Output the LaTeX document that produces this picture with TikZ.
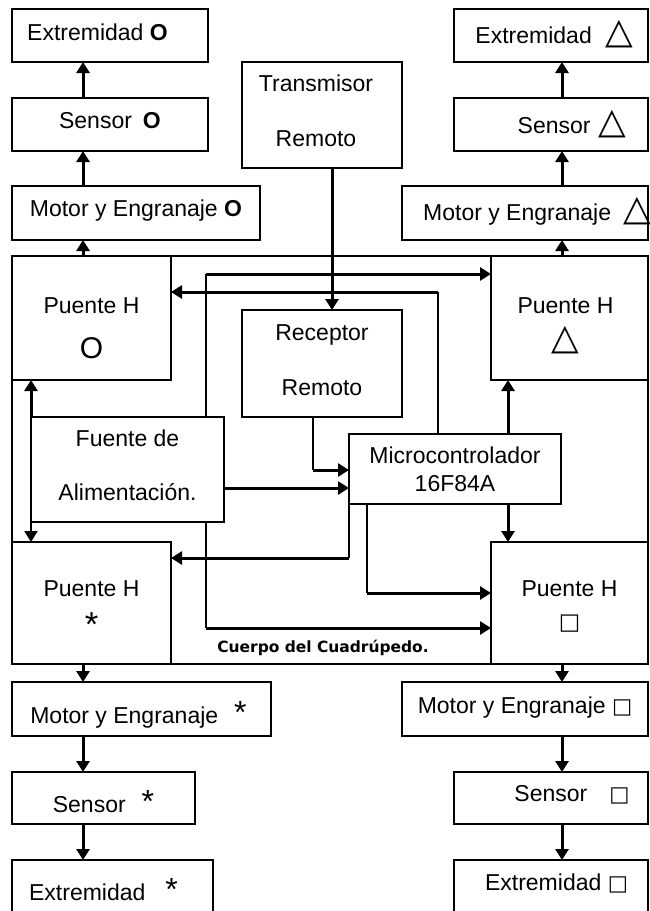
\documentclass[tikz,border=0pt]{standalone}
\usepackage{fontspec}
\setmainfont{Liberation Sans}
\newfontfamily\symfont{DejaVu Sans}
\usetikzlibrary{arrows.meta}

% 1 unit of the drawing = 0.75pt
\newlength\pxu
\setlength\pxu{0.75pt}
\newcommand\nudge[1]{\hspace*{#1\pxu}}
\newcommand\gp[1]{\hspace*{#1\pxu}}
\newcommand\tri[1][27]{{\symfont\fontsize{#1}{#1}\selectfont △}}
\newcommand\sqbox[1][16]{{\symfont\fontsize{#1}{#1}\selectfont □}}
\newcommand\astk[1][24]{{\fontsize{#1}{#1}\selectfont *}}

\begin{document}
\begin{tikzpicture}[x=0.75pt,y=-0.75pt,
  box/.style={draw, fill=white, line width=0.85pt, inner sep=0pt, outer sep=0pt,
    align=center, font=\fontsize{17.25}{20}\selectfont, text depth=0pt},
  sz/.style 2 args={minimum width=#1*0.75pt, minimum height=#2*0.75pt},
  wire/.style={line width=0.85pt},
  arr/.style={line width=2.25pt, -{Triangle[width=9.75pt,length=8.25pt]}},
  arrmid/.style={line width=1.5pt, -{Triangle[width=9.75pt,length=8.25pt]}},
]
\clip (0,0) rectangle (650,911);

% body of the quadruped
\node[draw, line width=0.85pt, sz={636}{408}, inner sep=0pt, outer sep=0pt] (body) at (330,460) {};

% leg "O" (top left)
\node[box, sz={196}{53}, text height=7.1pt] (extO) at (110,35.5) {\nudge{-25}Extremidad \textbf{O}};
\node[box, sz={196}{53}, text height=5.6pt] (senO) at (110,124.5) {Sensor\gp{11}\textbf{O}};
\node[box, sz={248}{54}, text height=4.9pt] (motO) at (136,213) {Motor y Engranaje \textbf{O}};

% remote transmitter
\node[box, sz={160}{106}, text height=46.9pt] (tx) at (322,115)
  {\nudge{-12}Transmisor\\[21.25pt]\nudge{-12}Remoto};

% leg triangle (top right)
\node[box, sz={194}{53}, text height=11.6pt] (extT) at (551,35.5) {\nudge{7}Extremidad\gp{14}\tri};
\node[box, sz={194}{53}, text height=13.1pt] (senT) at (551,124.5) {\nudge{42}Sensor\gp{8}\tri};
\node[box, sz={246}{54}, text height=10.9pt] (motT) at (525,213)
  {\makebox[0pt]{\nudge{24}Motor y Engranaje\gp{12}\tri}};

% H bridges
\node[box, sz={159}{124}, text height=60pt] (phO) at (91.5,318)
  {Puente H\\[13.6pt]{\fontsize{22.5}{22.5}\selectfont O}};
\node[box, sz={157}{124}, text height=47.25pt] (phT) at (569.5,318)
  {\nudge{-8}Puente H\\[7.2pt]\nudge{-8}\tri};
\node[box, sz={159}{122}, text height=49.5pt] (phS) at (91.5,603)
  {Puente H\\[9.8pt]\astk[26]};
\node[box, sz={157}{122}, text height=39.5pt] (phQ) at (569.5,603)
  {Puente H\\[4.8pt]\sqbox[17]};

% receiver, power supply, microcontroller
\node[box, sz={160}{107}, text height=47.6pt] (rx) at (322,363.5)
  {Receptor\\[21.25pt]Remoto};
\node[box, sz={193}{105}, text height=46.1pt] (src) at (127.5,469.5)
  {Fuente de\\[20.5pt]Alimentación.};
\node[box, sz={212}{70}, text height=33.4pt] (mcu) at (455,469)
  {Microcontrolador\\[1pt]16F84A};

% leg "*" (bottom left)
\node[box, sz={259}{54}, text height=21.4pt] (motS) at (141.5,709) {\nudge{-6}Motor y Engranaje\gp{16}\astk};
\node[box, sz={183}{52}, text height=21.4pt] (senS) at (103.5,798) {Sensor\gp{16}\astk};
\node[box, sz={201}{64}, text height=12.4pt] (extS) at (112.5,892) {\nudge{-18}Extremidad\gp{20}\astk};

% leg square (bottom right)
\node[box, sz={246}{54}, text height=6.4pt] (motQ) at (525,709) {Motor y Engranaje \sqbox};
\node[box, sz={194}{52}, text height=4.9pt] (senQ) at (551,798) {\nudge{42}Sensor\gp{22}\sqbox};
\node[box, sz={194}{64}, text height=0pt, text depth=2.6pt] (extQ) at (551,892) {\nudge{11}Extremidad \sqbox};

\node[font=\symfont\fontsize{11.6}{13}\selectfont\bfseries, inner sep=0pt] (bodylbl) at (323,648) {Cuerpo del Cuadrúpedo.};

% routing points
\coordinate (colL) at (83,0);
\coordinate (colR) at (562,0);
\coordinate (colM) at (508,0);
\coordinate (txc) at (332,0);
\coordinate (pwrA) at (206,274);
\coordinate (pwrB) at (206,628);
\coordinate (pwrC) at (0,488);
\coordinate (rxc) at (313,470);
\coordinate (ctlA) at (438,292);
\coordinate (ctlB) at (349,558);
\coordinate (ctlC) at (367,593);

% leg chains
\draw[arr] (phO.north -| colL) -- (motO.south -| colL);
\draw[arr] (motO.north -| colL) -- (senO.south -| colL);
\draw[arr] (senO.north -| colL) -- (extO.south -| colL);
\draw[arr] (phT.north -| colR) -- (motT.south -| colR);
\draw[arr] (motT.north -| colR) -- (senT.south -| colR);
\draw[arr] (senT.north -| colR) -- (extT.south -| colR);
\draw[arr] (phS.south -| colL) -- (motS.north -| colL);
\draw[arr] (motS.south -| colL) -- (senS.north -| colL);
\draw[arr] (senS.south -| colL) -- (extS.north -| colL);
\draw[arr] (phQ.south -| colR) -- (motQ.north -| colR);
\draw[arr] (motQ.south -| colR) -- (senQ.north -| colR);
\draw[arr] (senQ.south -| colR) -- (extQ.north -| colR);

% radio link
\draw[arr] (tx.south -| txc) -- (rx.north -| txc);

% power distribution
\draw[wire] (src.north -| pwrA) -- (pwrA);
\draw[arr] (pwrA) -- (pwrA -| phT.west);
\draw[wire] (src.south -| pwrB) -- (pwrB);
\draw[arr] (pwrB) -- (pwrB -| phQ.west);
\draw[arr] (src.east |- pwrC) -- (mcu.west |- pwrC);
\draw[arr] (src.north west) -- (src.north west |- phO.south);
\draw[arrmid] (src.south west) -- (src.south west |- phS.north);

% receiver to microcontroller
\draw[wire] (rx.south -| rxc) -- (rxc);
\draw[arr] (rxc) -- (rxc -| mcu.west);

% microcontroller outputs
\draw[wire] (mcu.north -| ctlA) -- (ctlA);
\draw[arr] (ctlA) -- (ctlA -| phO.east);
\draw[wire] (mcu.south -| ctlB) -- (ctlB);
\draw[arr] (ctlB) -- (ctlB -| phS.east);
\draw[wire] (mcu.south -| ctlC) -- (ctlC);
\draw[arr] (ctlC) -- (ctlC -| phQ.west);
\draw[arr] (mcu.north -| colM) -- (phT.south -| colM);
\draw[arr] (mcu.south -| colM) -- (phQ.north -| colM);
\end{tikzpicture}
\end{document}
